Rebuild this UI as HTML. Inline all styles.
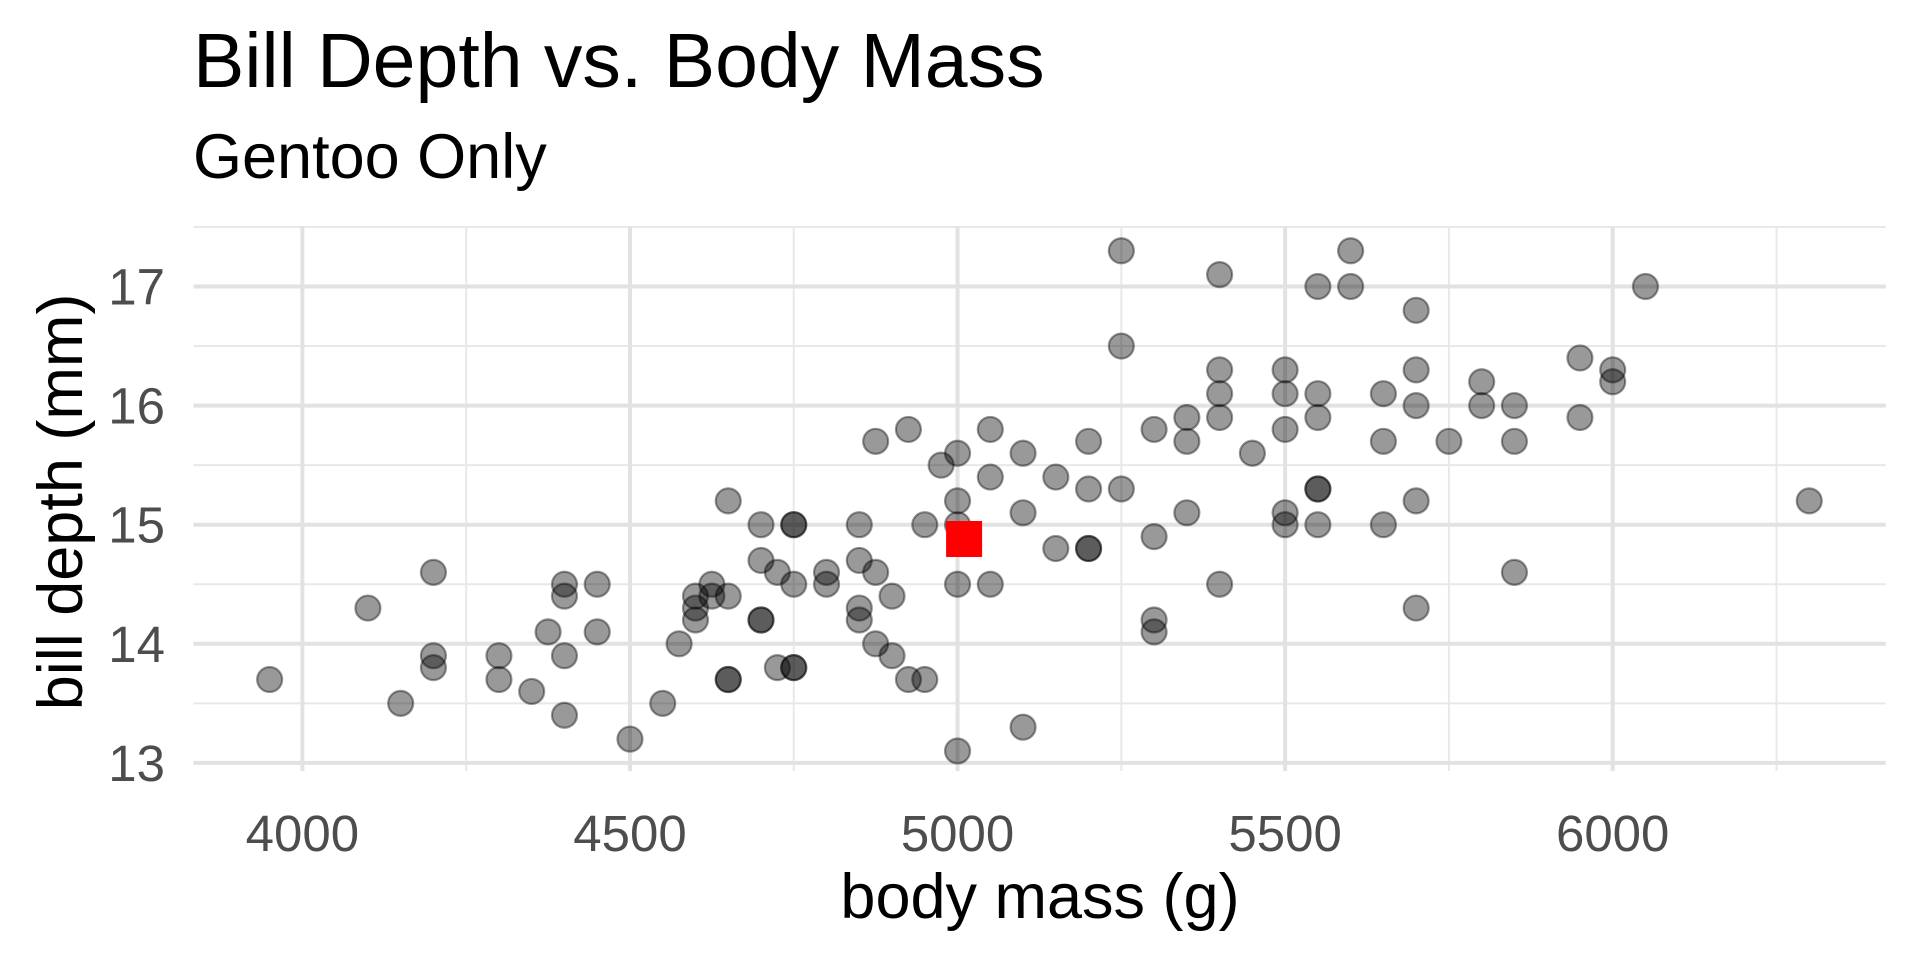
<!DOCTYPE html>
<html><head><meta charset="utf-8"><style>
html,body{margin:0;padding:0;background:#fff;}
svg{display:block;font-family:"Liberation Sans",sans-serif;}
</style></head><body>
<svg id="chart" width="1920" height="960" viewBox="0 0 1920 960">
<text x="193" y="87" font-size="77" fill="#000">Bill Depth vs. Body Mass</text>
<text x="193" y="178" font-size="63" fill="#000">Gentoo Only</text>
<g id="grid"></g>
<g id="points"></g>
<g id="ticks"></g>
<text x="1040" y="918" font-size="63" text-anchor="middle" fill="#000">body mass (g)</text>
<text transform="translate(82,502) rotate(-90)" font-size="63" text-anchor="middle" fill="#000">bill depth (mm)</text>
</svg>
<script>
const mass = [3950,4100,4150,4200,4200,4200,4300,4300,4350,4375,4400,4400,4400,4400,4450,4450,4500,4550,4575,4600,4600,4600,4625,4625,4650,4650,4650,4650,4700,4700,4700,4700,4725,4725,4750,4750,4750,4750,4750,4800,4800,4850,4850,4850,4850,4875,4875,4875,4900,4900,4925,4925,4950,4950,4975,5000,5000,5000,5000,5000,5050,5050,5050,5100,5100,5100,5150,5150,5200,5200,5200,5200,5250,5250,5250,5300,5300,5300,5300,5350,5350,5350,5400,5400,5400,5400,5400,5450,5500,5500,5500,5500,5500,5550,5550,5550,5550,5550,5550,5600,5600,5650,5650,5650,5700,5700,5700,5700,5700,5750,5800,5800,5850,5850,5850,5950,5950,6000,6000,6050,6300];
const depth = [13.7,14.3,13.5,14.6,13.9,13.8,13.9,13.7,13.6,14.1,14.5,14.4,13.9,13.4,14.5,14.1,13.2,13.5,14.0,14.4,14.3,14.2,14.5,14.4,15.2,14.4,13.7,13.7,15.0,14.7,14.2,14.2,14.6,13.8,15.0,15.0,14.5,13.8,13.8,14.6,14.5,15.0,14.7,14.3,14.2,15.7,14.6,14.0,14.4,13.9,15.8,13.7,15.0,13.7,15.5,15.6,15.2,15.0,14.5,13.1,15.8,15.4,14.5,15.6,15.1,13.3,15.4,14.8,15.7,15.3,14.8,14.8,17.3,16.5,15.3,15.8,14.9,14.2,14.1,15.9,15.7,15.1,17.1,16.3,16.1,15.9,14.5,15.6,16.3,16.1,15.8,15.1,15.0,17.0,16.1,15.9,15.3,15.3,15.0,17.3,17.0,16.1,15.7,15.0,16.8,16.3,16.0,15.2,14.3,15.7,16.2,16.0,16.0,15.7,14.6,16.4,15.9,16.3,16.2,17.0,15.2];
const meanMass = [5010];
const meanDepth = [14.88];
const xTicks = [4000,4500,5000,5500,6000];
const xMinor = [4250,4750,5250,5750,6250];
const yTicks = [13,14,15,16,17];
const yMinor = [13.5,14.5,15.5,16.5,17.5];

const NS="http://www.w3.org/2000/svg";
const L=193.5,R=1885.7,T=226.5,B=771;
const sx=v=>302.4+(v-4000)*1310.3/2000;
const sy=v=>286.5+(17-v)*119.1;
function mk(tag,attrs,parent){const e=document.createElementNS(NS,tag);for(const k in attrs)e.setAttribute(k,attrs[k]);parent.appendChild(e);return e;}
const grid=document.getElementById('grid'),pts=document.getElementById('points'),tk=document.getElementById('ticks');
xMinor.forEach(v=>{const e=mk('line',{x1:sx(v),x2:sx(v),y1:T,y2:B,stroke:'#e8e8e8','stroke-width':2},grid);

});
yMinor.forEach(v=>{const e=mk('line',{x1:L,x2:R,y1:sy(v),y2:sy(v),stroke:'#e8e8e8','stroke-width':2},grid);

});
xTicks.forEach(v=>{const e=mk('line',{x1:sx(v),x2:sx(v),y1:T,y2:B,stroke:'#e2e2e2','stroke-width':4},grid);


const t=mk('text',{x:sx(v),y:851,'font-size':51,'text-anchor':'middle',fill:'#4d4d4d'},tk);t.textContent=v;

});
yTicks.forEach(v=>{const e=mk('line',{x1:L,x2:R,y1:sy(v),y2:sy(v),stroke:'#e2e2e2','stroke-width':4},grid);


const t=mk('text',{x:165,y:sy(v)+18,'font-size':51,'text-anchor':'end',fill:'#4d4d4d'},tk);t.textContent=v;

});
mass.forEach((m,i)=>{const c=mk('circle',{cx:sx(m),cy:sy(depth[i]),r:12.5,fill:'rgba(0,0,0,0.4)',stroke:'rgba(0,0,0,0.4)','stroke-width':2.2},pts);

});
meanMass.forEach((m,i)=>{const s=36;const r=mk('rect',{x:sx(m)-s/2,y:sy(meanDepth[i])-s/2,width:s,height:s,fill:'#ff0000'},pts);

});
</script>
</body></html>
